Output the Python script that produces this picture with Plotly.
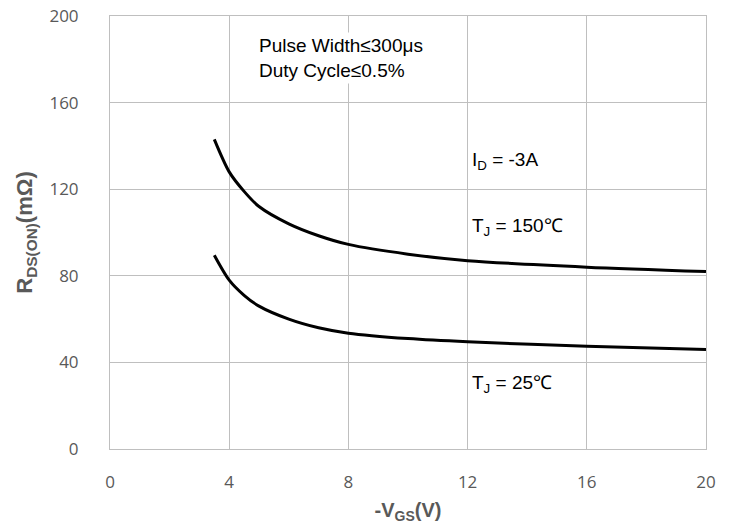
import plotly.graph_objects as go

vgs = [3.5, 4, 4.5, 5, 6, 7, 8, 10, 12, 16, 20]
r_150 = [143, 128, 119, 112, 104, 98.5, 94.5, 90, 87, 84, 82]
r_25 = [89.5, 78, 71, 66, 60, 56, 53.5, 51, 49.5, 47.5, 46]
x_ticks = [0, 4, 8, 12, 16, 20]
y_ticks = [0, 40, 80, 120, 160, 200]

fig = go.Figure()
for ys in (r_150, r_25):
    fig.add_trace(go.Scatter(x=vgs, y=ys, mode="lines",
                             line=dict(color="black", width=3, shape="spline", smoothing=0.8),
                             showlegend=False, hoverinfo="skip"))

ann_font = dict(family="Liberation Sans, Arial", size=19, color="black")
anns = [
    dict(x=4.9, y=180.7, text="Pulse Width≤300μs<br>Duty Cycle≤0.5%", bg="white"),
    dict(x=12.05, y=133, text="I<sub>D</sub> = -3A", bg="rgba(0,0,0,0)"),
    dict(x=12.05, y=102.5, text="T<sub>J</sub> = 150℃", bg="white"),
    dict(x=12.05, y=30, text="T<sub>J</sub> = 25℃", bg="white"),
]
for a in anns:
    fig.add_annotation(x=a["x"], y=a["y"], text=a["text"], align="left",
                       xanchor="left", yanchor="middle", showarrow=False,
                       font=ann_font, bgcolor=a["bg"], borderpad=2)

axis_common = dict(showgrid=True, gridcolor="#BFBFBF", gridwidth=1, zeroline=False,
                   showline=True, linecolor="#BFBFBF", linewidth=1, mirror=True,
                   ticks="", automargin=False, ticklabeloverflow="allow",
                   tickfont=dict(family="Open Sans", size=17, color="#595959"))
fig.update_xaxes(range=[0, 20], tickvals=x_ticks, ticklabelstandoff=18, **axis_common,
                 title=dict(text="<b>-V<sub>GS</sub>(V)</b>", standoff=10,
                            font=dict(family="Liberation Sans, Arial", size=20, color="#595959")))
fig.update_yaxes(range=[0, 200.001], tickvals=y_ticks, ticklabelstandoff=27, **axis_common,
                 title=dict(text="<b>R<sub>DS(ON)</sub>(mΩ)</b>", standoff=10,
                            font=dict(family="Liberation Sans, Arial", size=22, color="#595959")))

fig.update_layout(width=733, height=530, plot_bgcolor="white", paper_bgcolor="white",
                  margin=dict(l=110, r=27, t=16, b=81))
fig.write_html("out.html", config={"displayModeBar": False},
               post_script="document.body.style.margin='0';")
